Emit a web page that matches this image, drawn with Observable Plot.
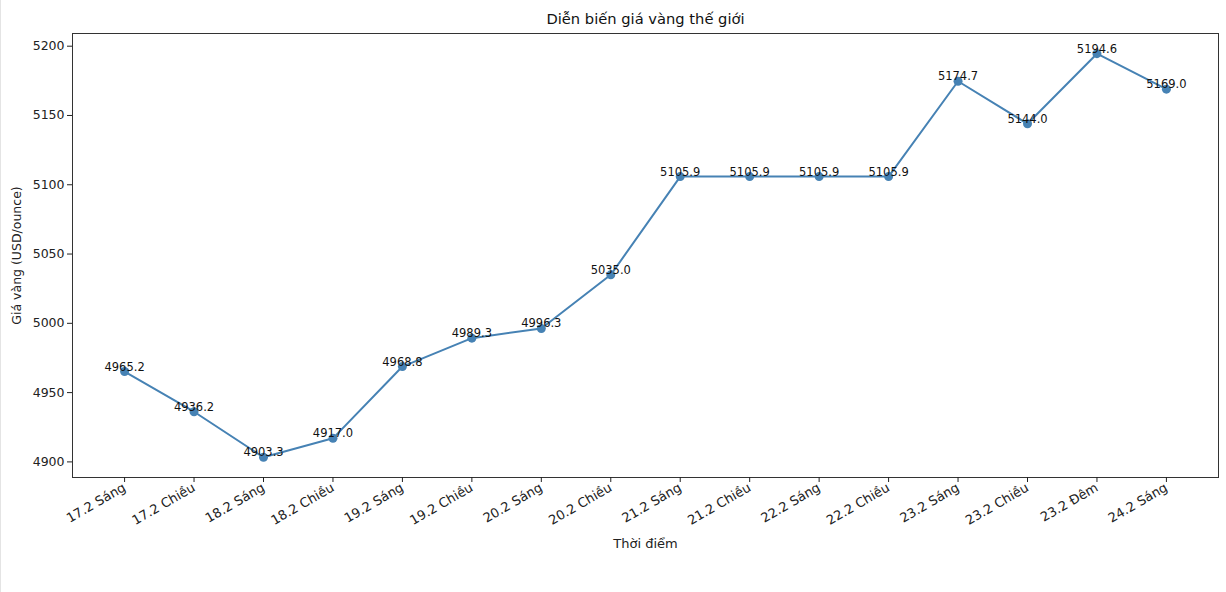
<!DOCTYPE html>
<html>
<head>
<meta charset="utf-8">
<script src="https://cdn.jsdelivr.net/npm/d3@7"></script>
<script src="https://cdn.jsdelivr.net/npm/@observablehq/plot@0.6"></script>
<style>
  html, body { margin: 0; padding: 0; background: #fff; }
  #chart { position: relative; width: 1226px; height: 592px; }
  #edge { position: absolute; left: 0; top: 0; width: 1px; height: 592px; background: #e4e4e4; }
</style>
</head>
<body>
<div id="chart"><div id="edge"></div></div>
<script>
const labels = ["17.2 Sáng","17.2 Chiều","18.2 Sáng","18.2 Chiều","19.2 Sáng","19.2 Chiều","20.2 Sáng","20.2 Chiều","21.2 Sáng","21.2 Chiều","22.2 Sáng","22.2 Chiều","23.2 Sáng","23.2 Chiều","23.2 Đêm","24.2 Sáng"];
const prices = [4965.2,4936.2,4903.3,4917.0,4968.8,4989.3,4996.3,5035.0,5105.9,5105.9,5105.9,5105.9,5174.7,5144.0,5194.6,5169.0];
const yTicks = [4900,4950,5000,5050,5100,5150,5200];
const titleText = "Diễn biến giá vàng thế giới";
const xTitle = "Thời điểm";
const yTitle = "Giá vàng (USD/ounce)";

const data = labels.map((l, i) => ({i, label: l, price: prices[i]}));
const n = labels.length;
const ymin = d3.min(prices), ymax = d3.max(prices);
const pad = (ymax - ymin) * 0.05;

const chart = Plot.plot({
  width: 1226,
  height: 592,
  marginLeft: 72,
  marginRight: 8,
  marginTop: 33,
  marginBottom: 115,
  style: {fontFamily: "DejaVu Sans", fontSize: "12.5px", color: "#222", background: "#fff"},
  x: {
    type: "linear",
    domain: [-0.75, n - 1 + 0.75]
  },
  y: {
    domain: [ymin - pad, ymax + pad]
  },
  marks: [
    Plot.frame({stroke: "#333", strokeWidth: 1}),
    Plot.axisY({ticks: yTicks, tickFormat: d => String(d), tickSize: 5, tickPadding: 3, label: yTitle, labelAnchor: "center", labelArrow: "none", labelOffset: 60, fontSize: 12.5}),
    Plot.axisX({ticks: d3.range(n), tickFormat: i => labels[i], tickRotate: -30, tickSize: 5, tickPadding: 4, label: xTitle, labelAnchor: "center", labelArrow: "none", labelOffset: 70, fontSize: 13}),
    Plot.line(data, {x: "i", y: "price", stroke: "#4682b4", strokeWidth: 2}),
    Plot.dot(data, {x: "i", y: "price", r: 4.5, fill: "#4682b4", stroke: "none"}),
    Plot.text(data, {x: "i", y: "price", text: d => d.price.toFixed(1), lineAnchor: "bottom", dy: -1, fontSize: 11.5, fill: "#111"}),
    Plot.text([titleText], {frameAnchor: "top", dy: -14, lineAnchor: "middle", fontSize: 14.7, fill: "#111"})
  ]
});
document.getElementById("chart").appendChild(chart);
</script>
</body>
</html>
